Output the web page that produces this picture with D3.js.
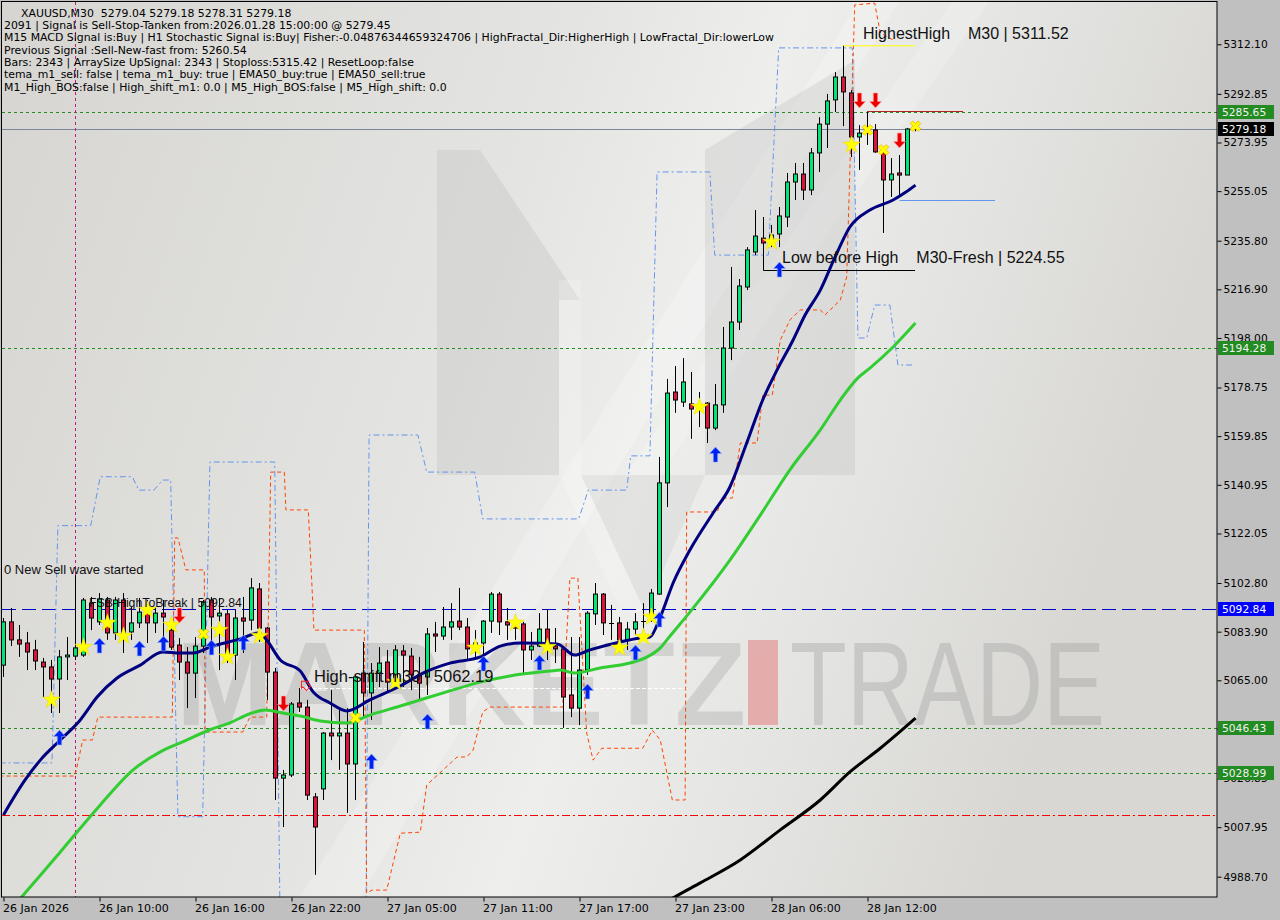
<!DOCTYPE html>
<html><head><meta charset="utf-8">
<script src="https://cdn.jsdelivr.net/npm/d3@7/dist/d3.min.js"></script>
<style>
html,body{margin:0;padding:0;background:#c0c0c0;}
svg{display:block;}
text{white-space:pre;}
</style></head><body>
<svg id="chart" width="1280" height="920"></svg>
<script>
// ---------------- DATA ----------------
// OHLC per M30 bar, index 0 = 26 Jan 04:00 ... index 114 = 28 Jan 15:00
const ohlc = [
[5070.9,5089.2,5066.3,5087.7],[5087.7,5093.1,5078.3,5080.7],[5080.7,5086.5,5074.1,5079.1],[5079.5,5083.8,5069.0,5076.0],
[5076.8,5080.7,5069.0,5072.5],[5072.1,5073.7,5058.5,5070.2],[5070.2,5072.9,5052.3,5065.5],[5065.5,5076.8,5052.3,5074.1],
[5074.1,5081.8,5065.1,5074.8],[5074.4,5105.9,5072.9,5077.6],[5074.8,5097.0,5074.1,5096.2],[5095.0,5097.4,5084.5,5089.2],
[5087.7,5098.9,5086.5,5096.6],[5096.2,5097.4,5080.7,5083.4],[5083.4,5097.4,5080.7,5096.2],[5096.2,5098.9,5075.6,5081.4],
[5083.8,5093.5,5080.7,5087.3],[5087.3,5097.0,5085.3,5091.5],[5092.3,5096.2,5079.5,5087.3],[5087.3,5093.5,5083.4,5091.1],
[5091.1,5096.2,5076.8,5089.6],[5084.5,5088.4,5076.8,5077.9],[5078.7,5081.4,5065.1,5072.1],[5072.1,5077.9,5054.2,5067.8],
[5067.8,5081.8,5058.1,5078.3],[5078.3,5096.2,5075.6,5095.4],[5096.2,5097.4,5075.6,5089.6],[5090.0,5097.0,5069.0,5091.1],
[5090.8,5092.3,5071.7,5075.2],[5074.8,5092.3,5065.1,5089.2],[5089.2,5097.4,5075.6,5088.0],[5088.4,5104.7,5084.5,5100.9],
[5100.5,5102.8,5079.9,5085.3],[5085.3,5085.7,5057.4,5068.2],[5068.2,5069.8,5018.5,5027.0],[5027.0,5030.2,5008.0,5028.2],
[5028.2,5056.6,5027.4,5055.8],[5056.2,5062.0,5052.7,5054.6],[5054.6,5057.4,5018.5,5020.4],[5019.7,5021.2,4989.4,5008.0],
[5022.8,5044.9,5018.5,5044.5],[5044.5,5061.2,5034.0,5043.4],[5043.4,5054.6,5030.2,5044.5],[5044.5,5054.2,5013.5,5032.5],
[5032.5,5067.1,5018.5,5066.3],[5067.8,5079.9,5050.7,5060.1],[5060.1,5071.7,5049.6,5067.8],[5067.8,5077.9,5062.4,5071.7],
[5072.1,5076.8,5060.1,5064.3],[5065.9,5078.7,5063.9,5076.8],[5076.4,5078.7,5062.4,5074.8],[5074.4,5077.6,5061.2,5067.1],
[5067.1,5074.1,5057.4,5063.9],[5066.3,5085.3,5059.3,5083.0],[5083.0,5087.7,5076.0,5082.2],[5082.2,5093.5,5080.7,5085.7],
[5085.7,5095.0,5080.7,5087.7],[5088.0,5100.9,5084.5,5085.7],[5085.7,5089.2,5072.9,5077.2],[5077.6,5084.5,5072.9,5079.5],
[5079.5,5088.4,5074.1,5088.0],[5088.0,5099.3,5083.4,5098.5],[5098.5,5099.3,5082.6,5087.7],[5087.7,5093.1,5080.7,5086.5],
[5086.9,5090.4,5080.7,5085.3],[5086.9,5087.7,5067.1,5076.8],[5076.8,5083.8,5072.9,5078.3],[5078.3,5091.1,5077.9,5084.9],
[5084.9,5092.7,5072.9,5077.2],[5078.3,5085.3,5071.7,5077.2],[5077.2,5077.9,5046.5,5058.5],[5059.3,5081.8,5050.7,5054.2],
[5054.2,5081.8,5047.6,5069.0],[5069.0,5091.9,5067.1,5091.1],[5090.8,5102.8,5086.5,5098.5],[5098.5,5098.9,5082.6,5087.3],
[5087.3,5094.3,5080.7,5087.4],[5087.3,5089.6,5076.0,5080.7],[5080.7,5087.7,5076.8,5084.9],[5084.9,5091.1,5082.6,5087.7],
[5087.7,5095.0,5080.7,5087.9],[5088.4,5100.5,5087.7,5098.9],[5098.5,5151.8,5098.2,5141.7],[5141.7,5182.1,5132.3,5176.6],
[5177.0,5187.1,5168.9,5173.9],[5173.1,5190.2,5171.2,5180.9],[5172.4,5184.8,5158.8,5170.4],[5172.0,5177.0,5163.4,5170.4],
[5172.7,5173.1,5157.2,5163.0],[5163.0,5180.1,5162.2,5172.0],[5172.0,5202.3,5168.9,5194.1],[5194.1,5225.6,5189.4,5204.2],
[5204.2,5220.9,5201.1,5218.2],[5217.8,5233.3,5216.6,5232.2],[5231.4,5247.7,5230.2,5237.6],[5236.8,5245.0,5231.4,5234.9],
[5234.9,5241.9,5233.3,5238.0],[5238.4,5248.9,5233.3,5245.4],[5245.0,5262.1,5241.1,5258.6],[5258.6,5266.0,5251.6,5261.7],
[5261.7,5266.0,5251.6,5255.5],[5255.5,5271.8,5253.5,5269.9],[5269.9,5283.8,5262.5,5281.1],[5281.1,5292.8,5271.8,5290.1],
[5290.5,5301.3,5285.8,5299.4],[5299.4,5311.52,5280.3,5293.6],[5293.2,5294.3,5268.3,5276.1],[5276.1,5280.7,5263.3,5277.6],
[5277.6,5286.0,5273.0,5279.6],[5278.8,5281.1,5269.9,5270.3],[5269.9,5272.2,5238.8,5259.4],[5259.4,5267.9,5252.8,5261.7],
[5262.1,5269.1,5253.5,5261.3],[5261.3,5279.6,5261.3,5279.2],[5279.04,5279.18,5278.31,5279.18]
];

// moving averages: [bar index, price]
const emaFast = [[0,5012.7],[2.7,5026.3],[4.6,5034.0],[7.1,5041.8],[9.6,5049.6],[11.7,5058.5],[14.2,5065.9],[17.1,5070.9],[19.9,5076.0],[22.1,5075.6],[23.7,5075.6],[25.8,5077.9],[29.9,5081.4],[31.8,5083.4],[32.7,5081.4],[34.6,5072.9],[37.1,5068.6],[38.7,5060.5],[40.8,5056.2],[42.9,5053.1],[45.8,5057.4],[49.6,5062.8],[52.7,5068.2],[55.8,5071.7],[59.6,5074.1],[62.1,5078.3],[64.6,5079.5],[69.2,5079.1],[71.4,5074.8],[73.3,5076.8],[77.1,5079.9],[79.6,5081.4],[80.8,5081.8],[82.1,5089.6],[83.7,5102.8],[85.8,5115.6],[88.7,5130.0],[90.8,5140.1],[92.9,5157.2],[94.9,5173.9],[96.7,5185.6],[98.7,5197.2],[100.2,5206.9],[102.1,5216.6],[103.9,5229.1],[105.8,5241.1],[108.3,5247.7],[111.2,5251.6],[112.8,5254.7],[114,5257.4]];
const ema50 = [[0,4973.0],[2.7,4982.4],[7.1,4998.3],[12.1,5016.6],[16.2,5030.2],[19.6,5037.2],[22.4,5041.1],[25.8,5045.8],[28.3,5048.5],[30.8,5052.0],[32.7,5053.5],[34.9,5052.3],[37.1,5051.1],[39.6,5049.2],[42.9,5048.4],[45.8,5051.5],[49.6,5055.0],[52.1,5057.4],[55.8,5060.9],[59.6,5064.3],[63.3,5066.7],[68.3,5068.6],[69.6,5069.0],[71.4,5067.8],[74.6,5069.8],[78.3,5071.7],[80.2,5073.7],[82.1,5077.6],[83.1,5081.4],[85.8,5091.5],[90.8,5111.7],[94.6,5129.2],[98.3,5146.8],[102.1,5162.3],[104.6,5173.9],[106.8,5182.5],[108.3,5186.3],[111.2,5194.5],[114,5203.8]];
const ema200 = [[81.4,4975.7],[83.9,4980.8],[87.1,4986.3],[92.1,4995.2],[97.1,5006.9],[102.1,5018.5],[105.8,5029.4],[109.6,5038.6],[114,5050.3]];

// envelope step lines: [bar index, price]
const upperBand = [[-0.5,5032.9],[6.06,5032.9],[6.8,5125.1],[10.9,5125.1],[12.1,5144.1],[16.1,5144.1],[16.9,5138.9],[18.8,5138.9],[19.9,5142.8],[20.9,5142.8],[21.8,5012.0],[24.9,5012.0],[25.8,5149.8],[33.9,5149.8],[34.6,4964.1],[45.3,4964.1],[45.7,5160.3],[51.8,5160.3],[52.9,5145.9],[58.9,5145.9],[59.9,5127.7],[71.9,5127.7],[73.1,5138.9],[77.9,5138.9],[78.4,5152.2],[80.8,5152.2],[81.7,5262.5],[88.3,5262.5],[88.9,5230.2],[95.6,5230.2],[96.9,5310.7],[106.1,5310.7],[106.8,5198.0],[107.9,5198.0],[108.9,5210.8],[110.8,5210.8],[111.8,5187.5],[113.9,5187.5]];
const lowerBand = [[-0.5,5027.8],[8.9,5027.8],[9.1,5030.2],[9.9,5041.8],[11.1,5041.8],[11.8,5050.7],[21.1,5050.7],[21.4,5120.3],[21.8,5120.3],[22.8,5107.9],[25.1,5107.9],[25.2,5044.9],[29.9,5044.9],[30.8,5050.7],[32.9,5050.7],[33.4,5145.9],[35.1,5145.9],[35.3,5131.2],[38.1,5131.2],[38.6,5098.9],[38.8,5084.5],[45.1,5084.5],[45.4,4982.4],[46.1,4983.5],[47.9,4983.5],[49.6,5005.6],[52.1,5006.0],[52.9,5024.3],[56.7,5035.2],[57.9,5035.2],[58.7,5037.9],[59.9,5052.7],[60.8,5054.6],[69.9,5054.6],[70.8,5104.7],[71.8,5104.7],[72.9,5044.5],[73.7,5034.0],[74.8,5038.6],[79.9,5038.6],[81.1,5045.6],[82.1,5041.8],[83.6,5018.5],[85.2,5018.5],[85.4,5130.4],[89.2,5130.4],[89.9,5135.8],[91.1,5135.8],[92.1,5157.2],[94.2,5157.2],[94.9,5175.8],[96.1,5175.8],[97.1,5197.2],[98.3,5205.0],[99.6,5208.9],[102.1,5208.9],[102.7,5207.0],[104.6,5212.7],[105.4,5221.7],[106.4,5327.4],[108.9,5328.1],[109.6,5316.5],[111.2,5313.8]];

// signal markers: [bar index, price]
const stars = [[6,5057.4],[10,5077.9],[13,5087.3],[15,5082.2],[18,5092.3],[21,5086.5],[27,5084.5],[28,5074.1],[32,5082.2],[49,5064.3],[59,5077.6],[64,5087.3],[68,5077.9],[77,5077.6],[80,5081.8],[81,5089.6],[87,5171.2],[96,5235.3],[106,5273.0]];
const crosses = [[25,5083.0],[44,5050.4],[108,5278.8],[110,5271.1],[114,5280.3]];
const upArrows = [[7,5042.6],[12,5078.3],[17,5077.2],[20,5079.1],[26,5077.6],[30,5079.5],[46,5033.3],[53,5048.8],[60,5071.3],[67,5071.7],[73,5060.5],[79,5075.6],[82,5088.4],[89,5152.5],[97,5224.4]];
const downArrows = [[22,5090.4],[35,5056.2],[107,5290.5],[109,5290.5],[112,5274.9]];

// levels
const greenLevels = [5285.65, 5194.28, 5046.43, 5028.99];
const bidPrice = 5279.18;
const fsbHigh = 5092.84;
const redLevel = 5012.7;
const highShift = 5062.19;
const highestHigh = 5311.52;
const lowBeforeHigh = 5224.55;
const sellStopHigh = 5286.0;
const lastLow = 5251.6;
const magentaBar = 9;

// axes
const priceTicks = [5312.10,5292.85,5273.95,5255.05,5235.80,5216.90,5198.00,5178.75,5159.85,5140.95,5122.05,5102.80,5083.90,5065.00,5046.10,5026.85,5007.95,4988.70];
const timeTickIdx = [0,12,24,36,48,60,72,84,96,108];
const timeTickLabels = ["26 Jan 2026","26 Jan 10:00","26 Jan 16:00","26 Jan 22:00","27 Jan 05:00","27 Jan 11:00","27 Jan 17:00","27 Jan 23:00","28 Jan 06:00","28 Jan 12:00"];

const headerLines = [
"2091 | Signal is Sell-Stop-Tanken from:2026.01.28 15:00:00 @ 5279.45",
"M15 MACD Signal is:Buy | H1 Stochastic Signal is:Buy| Fisher:-0.04876344659324706 | HighFractal_Dir:HigherHigh | LowFractal_Dir:lowerLow",
"Previous Signal :Sell-New-fast from: 5260.54",
"Bars: 2343 | ArraySize UpSignal: 2343 | Stoploss:5315.42 | ResetLoop:false",
"tema_m1_sell: false | tema_m1_buy: true | EMA50_buy:true | EMA50_sell:true",
"M1_High_BOS:false | High_shift_m1: 0.0 | M5_High_BOS:false | M5_High_shift: 0.0"
];

// ---------------- DRAW ----------------
const svg = d3.select('#chart');
const PX0 = 2, PY0 = 2, PX1 = 1217, PY1 = 897;
const y = d3.scaleLinear().domain([4988.70, 5312.10]).range([876.7, 44.3]);
const x = d3.scaleLinear().domain([0, 114]).range([3.5, 915.5]);

const defs = svg.append('defs');
const g1 = defs.append('linearGradient').attr('id','bg').attr('x1',0).attr('y1',0).attr('x2',1).attr('y2',0.25);
[[0,'#d6d5d1'],[0.45,'#e4e4e2'],[0.62,'#eeeeed'],[0.8,'#e4e4e2'],[1,'#d8d7d3']].forEach(s=>g1.append('stop').attr('offset',s[0]).attr('stop-color',s[1]));
defs.append('clipPath').attr('id','clip').append('rect').attr('x',PX0).attr('y',PY0).attr('width',PX1-PX0).attr('height',PY1-PY0);

svg.append('rect').attr('width',1280).attr('height',920).attr('fill','#c0c0c0');
const plot = svg.append('g').attr('clip-path','url(#clip)');
plot.append('rect').attr('x',PX0).attr('y',PY0).attr('width',PX1-PX0).attr('height',PY1-PY0).attr('fill','url(#bg)');

// watermark
const wm = plot.append('g');
wm.append('path').attr('d','M300,897 L860,0 L900,0 L360,897 Z').attr('fill','#ffffff').attr('opacity',0.22);
wm.append('path').attr('d','M626,475 L953,0 L990,0 L660,475 Z').attr('fill','#ffffff').attr('opacity',0.2);
wm.append('path').attr('d','M437,150 L480,150 L580,300 L559,300 L559,475 L437,475 Z').attr('fill','#b8b8b8').attr('opacity',0.28);
wm.append('path').attr('d','M705,150 L855,60 L855,475 L705,475 Z').attr('fill','#b8b8b8').attr('opacity',0.28);
wm.append('path').attr('d','M559,280 L581,280 L581,475 L645,612 L622,612 L559,475 Z').attr('fill','#ffffff').attr('opacity',0.2);
wm.append('path').attr('d','M581,475 L705,475 L645,612 Z').attr('fill','#b8b8b8').attr('opacity',0.2);
wm.append('text').attr('x',176).attr('y',725).attr('font-family','Liberation Sans, Arial, sans-serif').attr('font-weight','bold')
  .attr('font-size',118).attr('textLength',570).attr('lengthAdjust','spacingAndGlyphs').attr('fill','#9a9a9a').attr('opacity',0.3).text('MARKETZ');
wm.append('rect').attr('x',748).attr('y',640).attr('width',30).attr('height',85).attr('fill','#e39a9a').attr('opacity',0.75);
wm.append('text').attr('x',790).attr('y',725).attr('font-family','Liberation Sans, Arial, sans-serif')
  .attr('font-size',118).attr('textLength',315).attr('lengthAdjust','spacingAndGlyphs').attr('fill','#9a9a9a').attr('opacity',0.35).text('TRADE');

// levels
greenLevels.forEach(p=>{
  plot.append('line').attr('x1',PX0).attr('x2',PX1).attr('y1',Math.round(y(p))+0.5).attr('y2',Math.round(y(p))+0.5)
    .attr('stroke','#228b22').attr('stroke-dasharray','3,3');
});
plot.append('line').attr('x1',PX0).attr('x2',PX1).attr('y1',Math.round(y(redLevel))+0.5).attr('y2',Math.round(y(redLevel))+0.5)
  .attr('stroke','#ff0000').attr('stroke-dasharray','8,3,2,3');
plot.append('line').attr('x1',PX0).attr('x2',PX1).attr('y1',Math.round(y(fsbHigh))+0.5).attr('y2',Math.round(y(fsbHigh))+0.5)
  .attr('stroke','#0000cd').attr('stroke-width',1.2).attr('stroke-dasharray','14,6');
plot.append('line').attr('x1',PX0).attr('x2',PX1).attr('y1',Math.round(y(bidPrice))+0.5).attr('y2',Math.round(y(bidPrice))+0.5)
  .attr('stroke','#778899');
plot.append('line').attr('x1',300).attr('x2',690).attr('y1',Math.round(y(highShift))+0.5).attr('y2',Math.round(y(highShift))+0.5)
  .attr('stroke','#ffffff').attr('stroke-dasharray','4,2');
// magenta vertical
const mx = Math.round(x(magentaBar)) - 0.5;
plot.append('line').attr('x1',mx).attr('x2',mx).attr('y1',PY0).attr('y2',PY1)
  .attr('stroke','#c71585').attr('stroke-dasharray','3,3');

// bands
const stepLine = d3.line().x(d=>x(d[0])).y(d=>y(d[1]));
plot.append('path').attr('d',stepLine(upperBand)).attr('fill','none').attr('stroke','#6495ed').attr('stroke-dasharray','6,3,2,3');
plot.append('path').attr('d',stepLine(lowerBand)).attr('fill','none').attr('stroke','#ff4500').attr('stroke-dasharray','4,3');

// short object lines
plot.append('line').attr('x1',x(104.9)).attr('x2',915).attr('y1',y(highestHigh)).attr('y2',y(highestHigh)).attr('stroke','#ffff00');
plot.append('line').attr('x1',x(108)).attr('x2',963).attr('y1',Math.round(y(sellStopHigh))+0.5).attr('y2',Math.round(y(sellStopHigh))+0.5).attr('stroke','#b22222');
plot.append('line').attr('x1',x(112)).attr('x2',995).attr('y1',Math.round(y(lastLow))+0.5).attr('y2',Math.round(y(lastLow))+0.5).attr('stroke','#6495ed');
plot.append('path').attr('d',`M${Math.round(x(95))-0.5},${y(5234.9)} V${Math.round(y(lowBeforeHigh))+0.5} H915`).attr('fill','none').attr('stroke','#000');

// candles
const cg = plot.append('g');
ohlc.forEach((c,i)=>{
  const cx = x(i);
  const [o,h,l,cl] = c;
  cg.append('line').attr('x1',cx).attr('x2',cx).attr('y1',y(h)).attr('y2',y(l)).attr('stroke','#000');
  const top = y(Math.max(o,cl)), bot = y(Math.min(o,cl));
  if (bot - top < 1.5) {
    cg.append('line').attr('x1',cx-2.5).attr('x2',cx+2.5).attr('y1',Math.round(top)+0.5).attr('y2',Math.round(top)+0.5).attr('stroke','#000');
  } else {
    cg.append('rect').attr('x',cx-2).attr('y',top).attr('width',4).attr('height',bot-top)
      .attr('fill', cl>=o ? '#00e676' : '#dc143c').attr('stroke','#000');
  }
});

// MAs
const smooth = d3.line().x(d=>x(d[0])).y(d=>y(d[1])).curve(d3.curveMonotoneX);
plot.append('path').attr('d',smooth(ema200)).attr('fill','none').attr('stroke','#000').attr('stroke-width',3);
plot.append('path').attr('d',smooth(ema50)).attr('fill','none').attr('stroke','#32cd32').attr('stroke-width',3);
plot.append('path').attr('d',smooth(emaFast)).attr('fill','none').attr('stroke','#000080').attr('stroke-width',3);

// markers
const starSym = d3.symbol().type(d3.symbolStar).size(95);
plot.selectAll('.star').data(stars).join('path').attr('d',starSym)
  .attr('transform',d=>`translate(${x(d[0])},${y(d[1])})`).attr('fill','#ffff00').attr('stroke','#e8d800').attr('stroke-width',0.5);
const crossSym = d3.symbol().type(d3.symbolCross).size(70);
plot.selectAll('.cross').data(crosses).join('path').attr('d',crossSym)
  .attr('transform',d=>`translate(${x(d[0])},${y(d[1])}) rotate(45)`).attr('fill','#ffff00').attr('stroke','#f0a000').attr('stroke-width',0.6);
const arrowUp = 'M0,-8 L6,-1.5 L2.2,-1.5 L2.2,7 L-2.2,7 L-2.2,-1.5 L-6,-1.5 Z';
plot.selectAll('.up').data(upArrows).join('path').attr('d',arrowUp)
  .attr('transform',d=>`translate(${x(d[0])},${y(d[1])})`).attr('fill','#0022ee').attr('stroke','#8ab0ff').attr('stroke-width',0.6);
plot.selectAll('.dn').data(downArrows).join('path').attr('d',arrowUp)
  .attr('transform',d=>`translate(${x(d[0])},${y(d[1])}) rotate(180)`).attr('fill','#ee0000').attr('stroke','#ffb0b0').attr('stroke-width',0.6);
// small hollow arrow
plot.append('path').attr('d','M0,-4 L5,1 L3,1 L3,6 L-3,6 L-3,1 L-5,1 Z').attr('transform',`translate(${x(37.6)},${y(5063.5)}) rotate(-45)`)
  .attr('fill','none').attr('stroke','#ff2020');

// texts
const lbl = (tx,ty,str,size,fam)=>plot.append('text').attr('x',tx).attr('y',ty).attr('font-family',fam||'Liberation Sans, Arial, sans-serif')
  .attr('font-size',size).attr('fill','#111').text(str);
lbl(863, y(highestHigh)-7, 'HighestHigh    M30 | 5311.52', 16);
lbl(782, y(lowBeforeHigh)-7, 'Low before High    M30-Fresh | 5224.55', 16);
lbl(314, y(highShift)-6, 'High-shift m30 | 5062.19', 16.5);
lbl(4, 574, '0 New Sell wave started', 13);
lbl(89, y(fsbHigh)-2, 'FSB-HighToBreak | 5092.84', 12.3);

// header
const hf = 'DejaVu Sans, Verdana, sans-serif';
plot.append('text').attr('x',21).attr('y',16.5).attr('font-family',hf).attr('font-size',10.9).attr('fill','#000')
  .text('XAUUSD,M30  5279.04 5279.18 5278.31 5279.18');
headerLines.forEach((s,k)=>{
  plot.append('text').attr('x',4).attr('y',29+k*12.3).attr('font-family',hf).attr('font-size',10.9).attr('fill','#000').text(s);
});

// border
svg.append('rect').attr('x',1.5).attr('y',1.5).attr('width',PX1-1.5).attr('height',PY1-1.5).attr('fill','none').attr('stroke','#000');

// right axis
const ay = svg.append('g').attr('transform',`translate(${PX1+0.5},0)`)
  .call(d3.axisRight(y).tickValues(priceTicks).tickFormat(d3.format('.2f')).tickSize(4).tickPadding(2));
ay.select('.domain').remove();
ay.selectAll('text').attr('font-family',hf).attr('font-size',10.7).attr('fill','#000');
ay.selectAll('line').attr('stroke','#000');

// bottom axis
const ax = svg.append('g').attr('transform',`translate(0,${PY1+0.5})`)
  .call(d3.axisBottom(x).tickValues(timeTickIdx).tickFormat((d,i)=>timeTickLabels[i]).tickSize(4).tickPadding(3));
ax.select('.domain').remove();
ax.selectAll('text').attr('font-family',hf).attr('font-size',11).attr('fill','#000').attr('text-anchor','start').attr('dx',-1);
ax.selectAll('line').attr('stroke','#000');

// price boxes
const box = (p,bg,fg)=>{
  const cy = Math.round(y(p));
  svg.append('rect').attr('x',PX1+1).attr('y',cy-7).attr('width',56).attr('height',14).attr('fill',bg);
  svg.append('text').attr('x',PX1+5).attr('y',cy+4).attr('font-family',hf).attr('font-size',10.7).attr('fill',fg).text(d3.format('.2f')(p));
};
greenLevels.forEach(p=>box(p,'#228b22','#f0f0f0'));
box(bidPrice,'#000000','#ffffff');
box(fsbHigh,'#0000ff','#ffffff');
</script>
</body></html>
